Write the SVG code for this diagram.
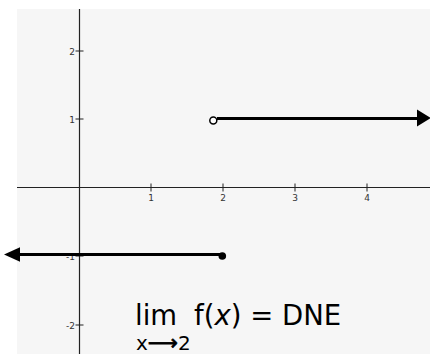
<svg xmlns="http://www.w3.org/2000/svg" width="430" height="354" viewBox="0 0 430 354">
<style>
.ax{stroke:#222;stroke-width:1.2;fill:none}
.tk{stroke:#222;stroke-width:1;fill:none}
.lbl{font-family:"DejaVu Sans",sans-serif;font-size:9px;fill:#333}
.g{stroke:#000;stroke-width:3;fill:none}
.big{font-family:"DejaVu Sans",sans-serif;fill:#000}
</style>
<rect x="0" y="0" width="430" height="354" fill="#fff"/>
<rect x="17" y="9" width="413" height="345" fill="#f6f6f6"/>
<g id="axes">
<line class="ax" x1="17" y1="187.5" x2="430" y2="187.5"/>
<line class="ax" x1="79.5" y1="9" x2="79.5" y2="354"/>
<g class="tk">
<line x1="151" y1="183.5" x2="151" y2="191.5"/>
<line x1="223" y1="183.5" x2="223" y2="191.5"/>
<line x1="295" y1="183.5" x2="295" y2="191.5"/>
<line x1="367" y1="183.5" x2="367" y2="191.5"/>
<line x1="75.5" y1="51" x2="83.5" y2="51"/>
<line x1="75.5" y1="119" x2="83.5" y2="119"/>
<line x1="75.5" y1="256" x2="83.5" y2="256"/>
<line x1="75.5" y1="325" x2="83.5" y2="325"/>
</g>
<g class="lbl" text-anchor="middle">
<text x="151" y="201">1</text>
<text x="223" y="201">2</text>
<text x="295" y="201">3</text>
<text x="367" y="201">4</text>
</g>
<g class="lbl" text-anchor="end">
<text x="75" y="54.5">2</text>
<text x="75" y="122.5">1</text>
<text x="75" y="259.5">-1</text>
<text x="75" y="328.5">-2</text>
</g>
</g>
<g id="upper-ray">
<line class="g" x1="217" y1="118.5" x2="419" y2="118.5"/>
<polygon points="417,109.5 431,118 417,126.5" fill="#000"/>
<circle cx="213.3" cy="120.5" r="3.5" fill="#fff" stroke="#000" stroke-width="1.5"/>
</g>
<g id="lower-ray">
<line class="g" x1="18" y1="254.5" x2="222" y2="254.5"/>
<polygon points="4,254.5 20,247.3 20,261.7" fill="#000"/>
<circle cx="222.3" cy="256" r="3.8" fill="#000"/>
</g>
<g id="limit-text">
<text class="big" x="135" y="325" font-size="27.5">lim</text>
<text class="big" x="194" y="325" font-size="27.5">f(<tspan font-style="italic">x</tspan>) = DNE</text>
<text class="big" x="136" y="350" font-size="20">x<tspan font-size="21" stroke="#000" stroke-width="0.7">⟶</tspan>2</text>
</g>
</svg>
